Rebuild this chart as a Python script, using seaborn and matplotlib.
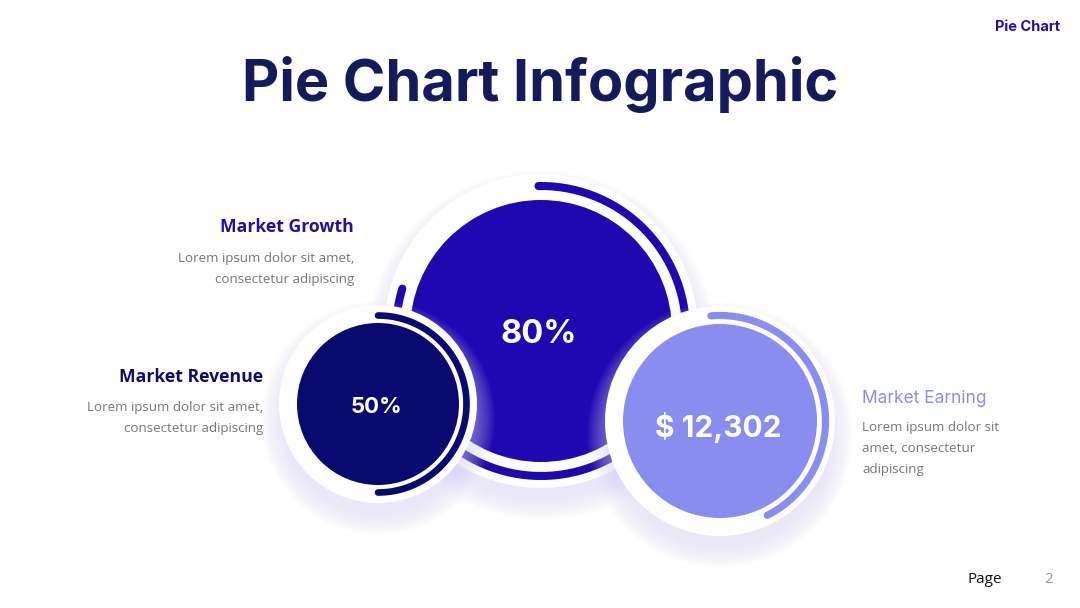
import numpy as np
import matplotlib
matplotlib.use("Agg")
import matplotlib.pyplot as plt
import seaborn as sns
from matplotlib.patches import Circle

sns.set_theme(style="white")
plt.rcParams['font.family'] = ['Open Sans', 'DejaVu Sans']

# data
labels = ["Market Growth", "Market Revenue", "Market Earning"]
display_values = ["80%", "50%", "$ 12,302"]
arc_share = [0.80, 0.50, 0.44]
descriptions = [
    ["Lorem ipsum dolor sit amet,", "consectetur adipiscing"],
    ["Lorem ipsum dolor sit amet,", "consectetur adipiscing"],
    ["Lorem ipsum dolor sit", "amet, consectetur", "adipiscing"],
]
colors = ["#1f07b1", "#090a6f", "#888def"]
label_colors = ["#2010a8", "#0d0d6b", "#8a8fea"]

# layout (pixel coords, y down)
centers = [(541, 331), (378, 404), (720, 421)]
fill_r = [131, 81, 97]
arc_r = [145, 88.5, 105.5]
white_r = [157, 99, 115]
arc_lw = [5.8, 4.8, 5.2]
arc_start = [91, 90, 95]
value_size = [23.5, 16, 21.5]
value_base = [343, 413, 437]

fig = plt.figure(figsize=(10.8, 6.08), dpi=100)
ax = fig.add_axes([0, 0, 1, 1])
ax.set_xlim(0, 1080)
ax.set_ylim(608, 0)
ax.set_aspect('equal')
ax.axis('off')

shadow_col = "#dcd8f8"
for i in range(3):
    cx, cy = centers[i]
    z = 1 + i * 10
    # soft glow under the white disc
    for k in range(16):
        ax.add_patch(Circle((cx, cy + 14), white_r[i] + 18 - k * 1.4,
                            color=shadow_col, alpha=0.04, lw=0, zorder=z))
    ax.add_patch(Circle((cx, cy), white_r[i], color="white", lw=0, zorder=z + 1))
    ax.add_patch(Circle((cx, cy), fill_r[i], color=colors[i], lw=0, zorder=z + 2))
    theta = np.radians(np.linspace(arc_start[i], arc_start[i] - 360 * arc_share[i], 200))
    ax.plot(cx + arc_r[i] * np.cos(theta), cy - arc_r[i] * np.sin(theta),
            color=colors[i], lw=arc_lw[i], solid_capstyle='round', zorder=z + 3)
    ax.text(cx - 2, value_base[i], display_values[i], color="white", fontsize=value_size[i],
            fontweight='bold', family=['Inter', 'DejaVu Sans'], ha='center', va='baseline',
            zorder=z + 4)

# title
ax.text(540, 101, "Pie Chart Infographic", fontsize=41.5, fontweight='bold',
        family=['Inter', 'DejaVu Sans'], color="#151a5c", ha='center', va='baseline')
ax.text(1060, 31, "Pie Chart", fontsize=10.5, fontweight='bold',
        family=['Inter', 'DejaVu Sans'], color="#2a0bb0", ha='right', va='baseline')

# side labels
ax.text(354, 232, labels[0], fontsize=12.7, fontweight='bold', color=label_colors[0],
        ha='right', va='baseline')
for j, line in enumerate(descriptions[0]):
    ax.text(354, 262 + 21 * j, line, fontsize=9.6, color="#777777", ha='right', va='baseline')

ax.text(263, 382, labels[1], fontsize=12.7, fontweight='bold', color=label_colors[1],
        ha='right', va='baseline')
for j, line in enumerate(descriptions[1]):
    ax.text(263, 411 + 21 * j, line, fontsize=9.6, color="#777777", ha='right', va='baseline')

ax.text(862, 403, labels[2], fontsize=12.5, color=label_colors[2],
        family=['Inter', 'DejaVu Sans'], ha='left', va='baseline')
for j, line in enumerate(descriptions[2]):
    ax.text(862, 431 + 21 * j, line, fontsize=9.6, color="#777777", ha='left', va='baseline')

# footer
ax.text(985, 583, "Page", fontsize=11, color="#111111", ha='center', va='baseline')
ax.text(1049, 583, "2", fontsize=11, color="#999999", ha='center', va='baseline')

fig.savefig("out.png", dpi=100)
